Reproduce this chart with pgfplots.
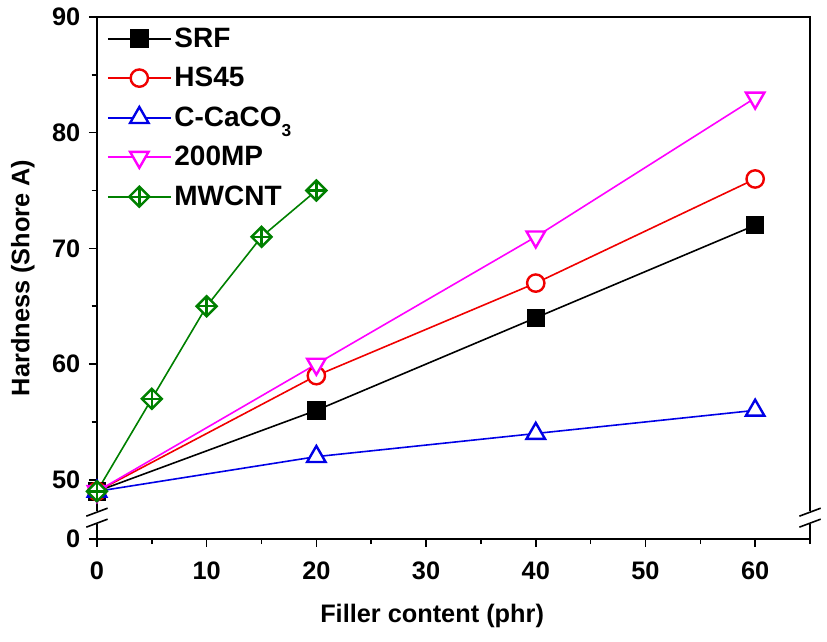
\documentclass[border=0pt]{standalone}
\usepackage{fontspec}
\setmainfont{Liberation Sans}
\usepackage{pgfplots}
\pgfplotsset{compat=1.18}

\definecolor{cSRF}{RGB}{0,0,0}
\definecolor{cHS}{RGB}{240,0,0}
\definecolor{cCa}{RGB}{0,0,230}
\definecolor{cMP}{RGB}{255,0,255}
\definecolor{cCNT}{RGB}{0,128,0}

% open diamond with a cross inside
\pgfdeclareplotmark{diamondplus}{%
  \pgfpathmoveto{\pgfqpoint{0pt}{\pgfplotmarksize}}%
  \pgfpathlineto{\pgfqpoint{\pgfplotmarksize}{0pt}}%
  \pgfpathlineto{\pgfqpoint{0pt}{-\pgfplotmarksize}}%
  \pgfpathlineto{\pgfqpoint{-\pgfplotmarksize}{0pt}}%
  \pgfpathclose
  \pgfusepathqfillstroke
  \pgfpathmoveto{\pgfqpoint{0pt}{\pgfplotmarksize}}%
  \pgfpathlineto{\pgfqpoint{0pt}{-\pgfplotmarksize}}%
  \pgfpathmoveto{\pgfqpoint{\pgfplotmarksize}{0pt}}%
  \pgfpathlineto{\pgfqpoint{-\pgfplotmarksize}{0pt}}%
  \pgfusepathqstroke
}

\begin{document}
\begin{tikzpicture}
\begin{axis}[
  scale only axis,
  width=535pt, height=391.5pt,
  xmin=0, xmax=65,
  ymin=44.9, ymax=90,
  xtick={0,10,...,60},
  minor xtick={5,15,...,65},
  ytick={44.9,50,60,70,80,90},
  yticklabels={0,50,60,70,80,90},
  minor ytick={55,65,75,85},
  xtick pos=bottom, ytick pos=left,
  tick align=outside,
  major tick length=6pt, minor tick length=4pt,
  every tick/.style={black, line width=1.2pt},
  axis line style={line width=1.4pt},
  /pgf/number format/assume math mode=true,
  ticklabel style={font=\fontsize{19}{22}\selectfont\bfseries},
  xticklabel style={yshift=-8pt},
  yticklabel style={xshift=-3pt},
  xlabel={Filler content (phr)},
  ylabel={Hardness (Shore A)},
  every axis x label/.style={at={(axis description cs:0.47,-0.161)}, anchor=base,
    font=\fontsize{19}{22}\selectfont\bfseries},
  every axis y label/.style={at={(axis description cs:-0.127,0.5)}, rotate=90, anchor=north,
    font=\fontsize{19}{22}\selectfont\bfseries},
  clip=false,
  legend style={draw=none, fill=none, at={(axis description cs:0.008,0.99)}, anchor=north west,
    font=\fontsize{21}{24}\selectfont\bfseries, row sep=9.5pt},
  legend cell align=left,
  legend image code/.code={%
    \draw[line width=1.4pt, mark repeat=2, mark phase=2] plot coordinates {(0cm,0cm) (0.83cm,0cm) (1.66cm,0cm)};},
  every axis plot/.append style={line width=1.2pt},
]
\addplot[cSRF, mark=square*, mark size=6pt, mark options={solid, fill=black, line width=1.8pt}]
  coordinates {(0,49) (20,56) (40,64) (60,72)};
\addlegendentry{SRF}
\addplot[cHS, mark=*, mark size=6.5pt, mark options={solid, fill=white, line width=1.8pt}]
  coordinates {(0,49) (20,59) (40,67) (60,76)};
\addlegendentry{HS45}
\addplot[cCa, mark=triangle*, mark size=8pt, mark options={solid, fill=white, line width=1.8pt}]
  coordinates {(0,49) (20,52) (40,54) (60,56)};
\addlegendentry{C-CaCO\raisebox{-0.7ex}{\fontsize{13}{14}\selectfont 3}}
\addplot[cMP, mark=triangle*, mark size=8pt, mark options={solid, fill=white, line width=1.8pt, rotate=180}]
  coordinates {(0,49) (20,60) (40,71) (60,83)};
\addlegendentry{200MP}
\addplot[cCNT, mark=diamondplus, mark size=7.5pt, mark options={solid, fill=white, line width=1.8pt}]
  coordinates {(0,49) (5,57) (10,65) (15,71) (20,75)};
\addlegendentry{MWCNT}

% axis breaks on both vertical axis lines
\pgfplotsinvokeforeach{0,65}{
  \draw[white, line width=4pt] (axis cs:#1,46.15) -- (axis cs:#1,47.3);
  \draw[black, line width=1.2pt] (axis cs:#1,47.2) ++(-8pt,-3pt) -- ++(16pt,6pt);
  \draw[black, line width=1.2pt] (axis cs:#1,46.25) ++(-8pt,-3pt) -- ++(16pt,6pt);
}
\end{axis}
\useasboundingbox (current axis.south west) ++(-72.75pt,-77.25pt) rectangle ([shift={(12.75pt,12.75pt)}]current axis.north east);
\end{tikzpicture}
\end{document}
